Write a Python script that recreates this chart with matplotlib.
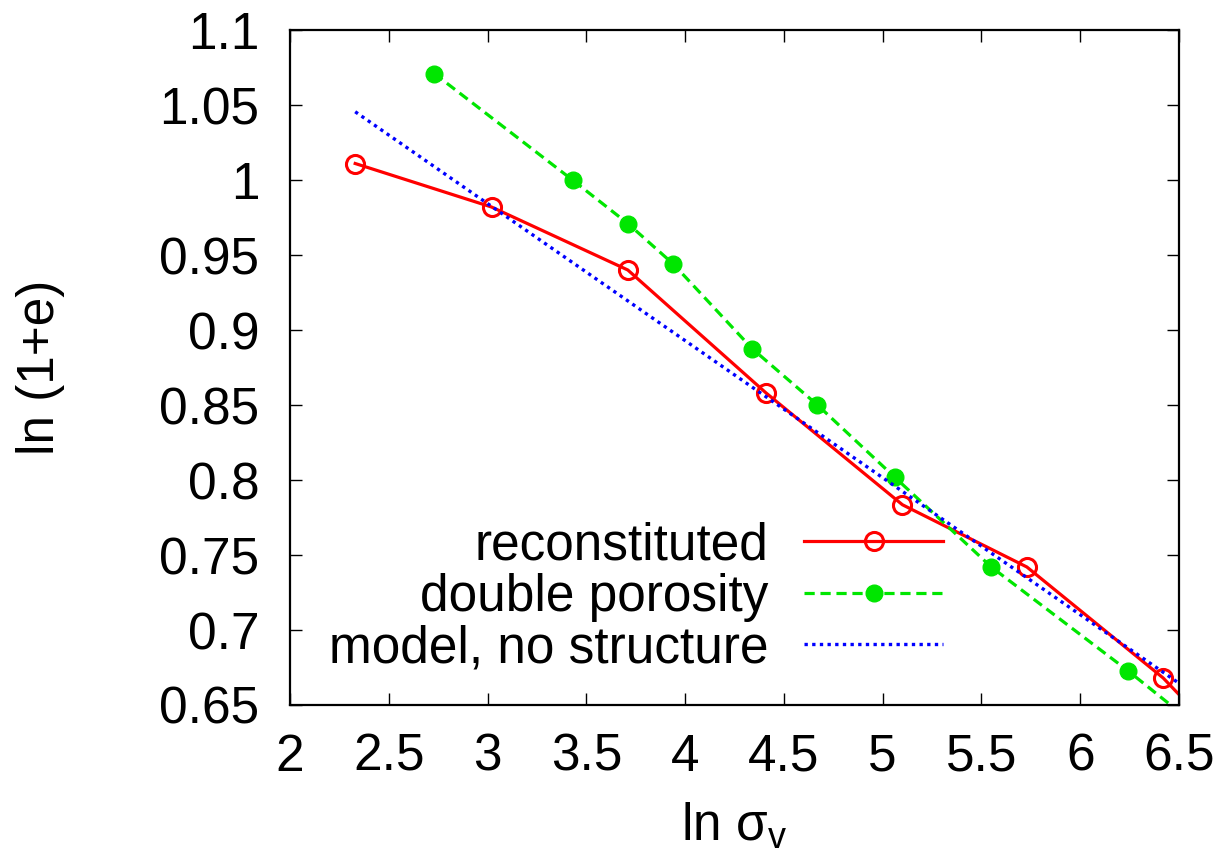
import matplotlib
matplotlib.use('agg')
import matplotlib.pyplot as plt
import numpy as np

plt.rcParams['font.family'] = ['Liberation Sans', 'DejaVu Sans']
plt.rcParams['mathtext.fontset'] = 'custom'
plt.rcParams['mathtext.rm'] = 'Liberation Sans'
plt.rcParams['mathtext.it'] = 'Liberation Sans'

# = = = data = = =
x_recon = [2.33, 3.02, 3.71, 4.41, 5.10, 5.73, 6.42, 7.11]
y_recon = [1.011, 0.982, 0.940, 0.858, 0.7835, 0.742, 0.668, 0.573]

x_double = [2.73, 3.43, 3.71, 3.94, 4.34, 4.67, 5.06, 5.55, 6.24, 6.93]
y_double = [1.071, 1.000, 0.971, 0.944, 0.8875, 0.850, 0.802, 0.742, 0.673, 0.600]

x_model = [2.33, 6.5]
y_model = [1.0455, 0.6645]

x_ticks = [2, 2.5, 3, 3.5, 4, 4.5, 5, 5.5, 6, 6.5]
y_ticks = [0.65, 0.7, 0.75, 0.8, 0.85, 0.9, 0.95, 1, 1.05, 1.1]
x_ticklabels = ['2', '2.5', '3', '3.5', '4', '4.5', '5', '5.5', '6', '6.5']
y_ticklabels = ['0.65', '0.7', '0.75', '0.8', '0.85', '0.9', '0.95', '1', '1.05', '1.1']

fs = 37

fig = plt.figure(figsize=(12.28, 8.65), dpi=100)
ax = fig.add_axes([290/1228, 1-705/865, (1179-290)/1228, (705-30)/865])

ax.plot(x_recon, y_recon, color='#ff0000', lw=2.3, marker='o', ms=13,
        mfc='none', mec='#ff0000', mew=2.2, label='reconstituted')
ax.plot(x_double, y_double, color='#00e600', lw=2.3, ls=(0, (3.2, 1.8)),
        marker='o', ms=12, mfc='#00e600', mec='#00e600', label='double porosity')
ax.plot(x_model, y_model, color='#0000ff', lw=2.4, ls=(0, (1, 1.3)),
        label='model, no structure')

ax.set_xlim(2, 6.5)
ax.set_ylim(0.65, 1.1)
ax.set_xticks(x_ticks)
ax.set_xticklabels(x_ticklabels)
ax.set_yticks(y_ticks)
ax.set_yticklabels(y_ticklabels)
ax.tick_params(direction='in', length=8.5, width=1, top=True, right=True,
               labelsize=fs)
ax.tick_params(axis='y', pad=22)
ax.tick_params(axis='x', pad=20)
for sp in ax.spines.values():
    sp.set_linewidth(1.6)

ax.set_xlabel(r'ln $\mathrm{\sigma_v}$', fontsize=fs, labelpad=14)
ax.set_ylabel('ln (1+e)', fontsize=fs, labelpad=68)

leg = ax.legend(loc='lower right', bbox_to_anchor=((943-290)/889, 0.047),
                frameon=False, fontsize=fs, markerfirst=False,
                handlelength=2.7, handletextpad=0.7, labelspacing=0.05,
                borderpad=0, borderaxespad=0)

fig.savefig('out.png', dpi=100)
